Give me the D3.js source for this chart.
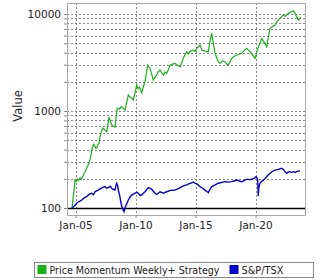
<!DOCTYPE html>
<html>
<head>
<meta charset="utf-8">
<script src="https://cdn.jsdelivr.net/npm/d3@7"></script>
<style>
  body { margin: 0; background: #fff; }
  text { font-family: 'DejaVu Sans', sans-serif; fill: #222; }
  .grid line { stroke: #888; stroke-dasharray: 2,2; stroke-width: 1; }
</style>
</head>
<body>
<div id="chart"></div>
<script>
// Datos (fecha en año decimal, valor)
const strategyDates = [2004.71, 2004.8, 2004.875, 2004.96, 2005.05, 2005.15, 2005.25, 2005.375, 2005.5, 2005.6, 2005.7, 2005.79, 2005.9, 2005.98, 2006.07, 2006.15, 2006.22, 2006.29, 2006.36, 2006.43, 2006.52, 2006.625, 2006.7, 2006.77, 2006.87, 2006.96, 2007.04, 2007.15, 2007.29, 2007.45, 2007.6, 2007.7, 2007.79, 2007.9, 2008.02, 2008.15, 2008.29, 2008.4, 2008.48, 2008.65, 2008.85, 2009.0, 2009.125, 2009.27, 2009.4, 2009.55, 2009.68, 2009.82, 2009.95, 2010.1, 2010.2, 2010.32, 2010.42, 2010.52, 2010.65, 2010.79, 2010.9, 2011.02, 2011.1, 2011.21, 2011.35, 2011.48, 2011.7, 2011.9, 2012.04, 2012.18, 2012.32, 2012.45, 2012.6, 2012.75, 2012.875, 2013.1, 2013.29, 2013.5, 2013.71, 2013.85, 2013.98, 2014.12, 2014.27, 2014.4, 2014.54, 2014.68, 2014.82, 2014.96, 2015.1, 2015.25, 2015.375, 2015.52, 2015.8, 2016.07, 2016.2, 2016.35, 2016.42, 2016.48, 2016.6, 2016.77, 2016.9, 2017.04, 2017.25, 2017.46, 2017.6, 2017.73, 2017.88, 2018.02, 2018.2, 2018.43, 2018.65, 2018.85, 2019.05, 2019.27, 2019.4, 2019.54, 2019.75, 2019.96, 2020.06, 2020.15, 2020.35, 2020.52, 2020.65, 2020.79, 2020.93, 2021.07, 2021.21, 2021.4, 2021.625, 2021.75, 2021.9, 2022.1, 2022.32, 2022.5, 2022.73, 2022.95, 2023.15, 2023.29, 2023.45, 2023.57, 2023.68, 2023.77]
const strategyValues = [100, 128, 153, 194, 188, 199, 192, 204, 198, 210, 226, 235, 252, 265, 281, 298, 322, 352, 398, 425, 452, 436, 410, 416, 449, 468, 540, 612, 668, 640, 612, 735, 867, 790, 717, 702, 684, 890, 1074, 1050, 1108, 1060, 1024, 1240, 1462, 1390, 1361, 1299, 1520, 1854, 1700, 1768, 1650, 1533, 1780, 2005, 2450, 2980, 2850, 2776, 2400, 2087, 2300, 2543, 2646, 2480, 2350, 2520, 2447, 2700, 2980, 3050, 3102, 2950, 2862, 3150, 3494, 3800, 4086, 3900, 4086, 4200, 4255, 4100, 4431, 4600, 4790, 4255, 4150, 4086, 5200, 6324, 5600, 4988, 4100, 3494, 3250, 3102, 3280, 3223, 3050, 2980, 3250, 3494, 3650, 3778, 3850, 3934, 4200, 4431, 4250, 4086, 3800, 3494, 3800, 4255, 4950, 5616, 5250, 4988, 4603, 5800, 7122, 7400, 7702, 8200, 8672, 9200, 9765, 9500, 10167, 10500, 10815, 10167, 9300, 8672, 8900, 9247]

const tsxDates = [2004.68, 2004.82, 2004.96, 2005.1, 2005.23, 2005.38, 2005.52, 2005.65, 2005.79, 2005.93, 2006.07, 2006.2, 2006.35, 2006.5, 2006.625, 2006.75, 2006.9, 2007.05, 2007.18, 2007.32, 2007.46, 2007.6, 2007.73, 2007.88, 2008.02, 2008.15, 2008.29, 2008.36, 2008.43, 2008.5, 2008.57, 2008.68, 2008.77, 2008.85, 2008.93, 2008.98, 2009.04, 2009.12, 2009.21, 2009.3, 2009.4, 2009.55, 2009.68, 2009.82, 2009.96, 2010.1, 2010.23, 2010.38, 2010.52, 2010.65, 2010.79, 2010.93, 2011.07, 2011.2, 2011.35, 2011.5, 2011.625, 2011.75, 2011.9, 2012.04, 2012.18, 2012.32, 2012.45, 2012.6, 2012.8, 2013.02, 2013.2, 2013.43, 2013.65, 2013.85, 2014.05, 2014.27, 2014.48, 2014.68, 2014.82, 2014.96, 2015.15, 2015.375, 2015.6, 2015.79, 2015.95, 2016.07, 2016.2, 2016.35, 2016.6, 2016.9, 2017.2, 2017.46, 2017.75, 2018.02, 2018.2, 2018.43, 2018.65, 2018.85, 2019.05, 2019.27, 2019.48, 2019.68, 2019.88, 2020.04, 2020.12, 2020.18, 2020.23, 2020.27, 2020.32, 2020.375, 2020.5, 2020.65, 2020.8, 2020.93, 2021.07, 2021.21, 2021.4, 2021.625, 2021.9, 2022.18, 2022.35, 2022.45, 2022.6, 2022.75, 2022.875, 2023.0, 2023.15, 2023.3, 2023.43, 2023.57, 2023.71]
const tsxValues = [100, 103, 107, 112, 116, 118, 121, 125, 129, 131, 136, 140, 142, 137, 147, 150, 153, 158, 160, 164, 166, 160, 162, 168, 160, 156, 153, 168, 180, 172, 153, 135, 116, 104, 99, 95, 92, 100, 107, 113, 121, 130, 136, 139, 142, 145, 142, 135, 136, 142, 147, 155, 162, 160, 156, 148, 142, 138, 142, 147, 145, 142, 145, 147, 150, 153, 152, 156, 160, 166, 170, 173, 178, 182, 185, 180, 176, 166, 160, 153, 148, 144, 155, 166, 172, 180, 184, 187, 185, 187, 190, 194, 190, 187, 192, 198, 196, 198, 202, 210, 205, 194, 133, 160, 172, 180, 188, 194, 202, 210, 220, 228, 238, 246, 250, 257, 248, 236, 228, 235, 237, 232, 237, 233, 237, 240, 242]

const yTickValues = [100, 1000, 10000]
const xTickYears = [2005, 2010, 2015, 2020]
const seriesNames = ['Price Momentum Weekly+ Strategy', 'S&P/TSX']
const seriesColors = ['#1ab01a', '#0000cc']

//Constantes de la página
const width = 320
const height = 280
const plot = { left: 67, top: 3, right: 305, bottom: 215 }

//Año decimal -> fecha
function toDate(y) {
    const year = Math.floor(y)
    const start = new Date(year, 0, 1)
    const end = new Date(year + 1, 0, 1)
    return new Date(start.getTime() + (y - year) * (end - start))
}

const strategy = strategyDates.map((d, i) => ({ date: toDate(d), value: strategyValues[i] }))
const tsx = tsxDates.map((d, i) => ({ date: toDate(d), value: tsxValues[i] }))

const svg = d3.select('#chart')
    .append('svg')
    .attr('width', width)
    .attr('height', height)

//Escalas
const x = d3.scaleTime()
    .domain([toDate(2004.29), toDate(2024.125)])
    .range([plot.left, plot.right])

const y = d3.scaleLog()
    .domain([84.7, 13000])
    .range([plot.bottom, plot.top])

//Ticks menores del eje logarítmico
const minorTicks = []
;[100, 1000, 10000].forEach(base => {
    for (let k = 1; k <= 9; k++) {
        const v = base * k
        if (v >= y.domain()[0] && v <= y.domain()[1]) minorTicks.push(v)
    }
})

//Rejilla
const grid = svg.append('g').attr('class', 'grid')
grid.selectAll('.hgrid')
    .data(minorTicks.filter(v => v !== 100))
    .enter()
    .append('line')
    .attr('x1', plot.left)
    .attr('x2', plot.right)
    .attr('y1', d => Math.round(y(d)) + 0.5)
    .attr('y2', d => Math.round(y(d)) + 0.5)

grid.selectAll('.vgrid')
    .data(xTickYears)
    .enter()
    .append('line')
    .attr('x1', d => Math.round(x(toDate(d))) + 0.5)
    .attr('x2', d => Math.round(x(toDate(d))) + 0.5)
    .attr('y1', plot.top)
    .attr('y2', plot.bottom)

//Línea base en 100
svg.append('line')
    .attr('x1', plot.left)
    .attr('x2', plot.right)
    .attr('y1', Math.round(y(100)) + 0.5)
    .attr('y2', Math.round(y(100)) + 0.5)
    .attr('stroke', '#000')
    .attr('stroke-width', 1.5)

//Series
const line = d3.line()
    .x(d => x(d.date))
    .y(d => y(d.value))

svg.append('path')
    .datum(strategy)
    .attr('d', line)
    .attr('fill', 'none')
    .attr('stroke', seriesColors[0])
    .attr('stroke-width', 1.2)

svg.append('path')
    .datum(tsx)
    .attr('d', line)
    .attr('fill', 'none')
    .attr('stroke', seriesColors[1])
    .attr('stroke-width', 1.4)

//Borde del área de dibujo
svg.append('rect')
    .attr('x', plot.left + 0.5)
    .attr('y', plot.top + 0.5)
    .attr('width', plot.right - plot.left)
    .attr('height', plot.bottom - plot.top)
    .attr('fill', 'none')
    .attr('stroke', '#aaa')

//Eje Y
const axisY = d3.axisLeft(y)
    .tickValues(minorTicks)
    .tickSize(3)
    .tickFormat(d => yTickValues.includes(d) ? d : '')
const gy = svg.append('g')
    .attr('transform', `translate(${plot.left}, 0)`)
    .call(axisY)
gy.select('.domain').remove()
gy.selectAll('.tick line').attr('stroke', '#888')
gy.selectAll('.tick text')
    .attr('font-size', 10.5)
    .attr('font-family', "'DejaVu Sans', sans-serif")
    .attr('fill', '#222')
    .attr('x', -6)

//Eje X
const axisX = d3.axisBottom(x)
    .tickValues(xTickYears.map(toDate))
    .tickSize(3)
    .tickFormat(d3.timeFormat('%b-%y'))
const gx = svg.append('g')
    .attr('transform', `translate(0, ${plot.bottom})`)
    .call(axisX)
gx.select('.domain').remove()
gx.selectAll('.tick line').attr('stroke', '#888')
gx.selectAll('.tick text')
    .attr('font-size', 10.5)
    .attr('font-family', "'DejaVu Sans', sans-serif")
    .attr('fill', '#222')
    .attr('y', 7)

//Título del eje Y
svg.append('text')
    .attr('transform', `translate(22, ${(plot.top + plot.bottom) / 2 - 3}) rotate(-90)`)
    .attr('text-anchor', 'middle')
    .attr('font-size', 11.5)
    .text('Value')

//Leyenda
const legend = svg.append('g').attr('transform', 'translate(34.5, 262.5)')
legend.append('rect')
    .attr('width', 279)
    .attr('height', 15)
    .attr('fill', '#fff')
    .attr('stroke', '#888')

const legendX = [3, 195]
const legendTextLen = [170, 42]
const items = legend.selectAll('.item')
    .data(seriesNames)
    .enter()
    .append('g')
    .attr('transform', (d, i) => `translate(${legendX[i]}, 0)`)
items.append('rect')
    .attr('x', 0)
    .attr('y', 2.5)
    .attr('width', 9)
    .attr('height', 9)
    .attr('fill', (d, i) => seriesColors[i])
items.append('text')
    .attr('x', 12)
    .attr('y', 11.5)
    .attr('font-size', 10)
    .attr('textLength', (d, i) => legendTextLen[i])
    .attr('lengthAdjust', 'spacingAndGlyphs')
    .text(d => d)
</script>
</body>
</html>
